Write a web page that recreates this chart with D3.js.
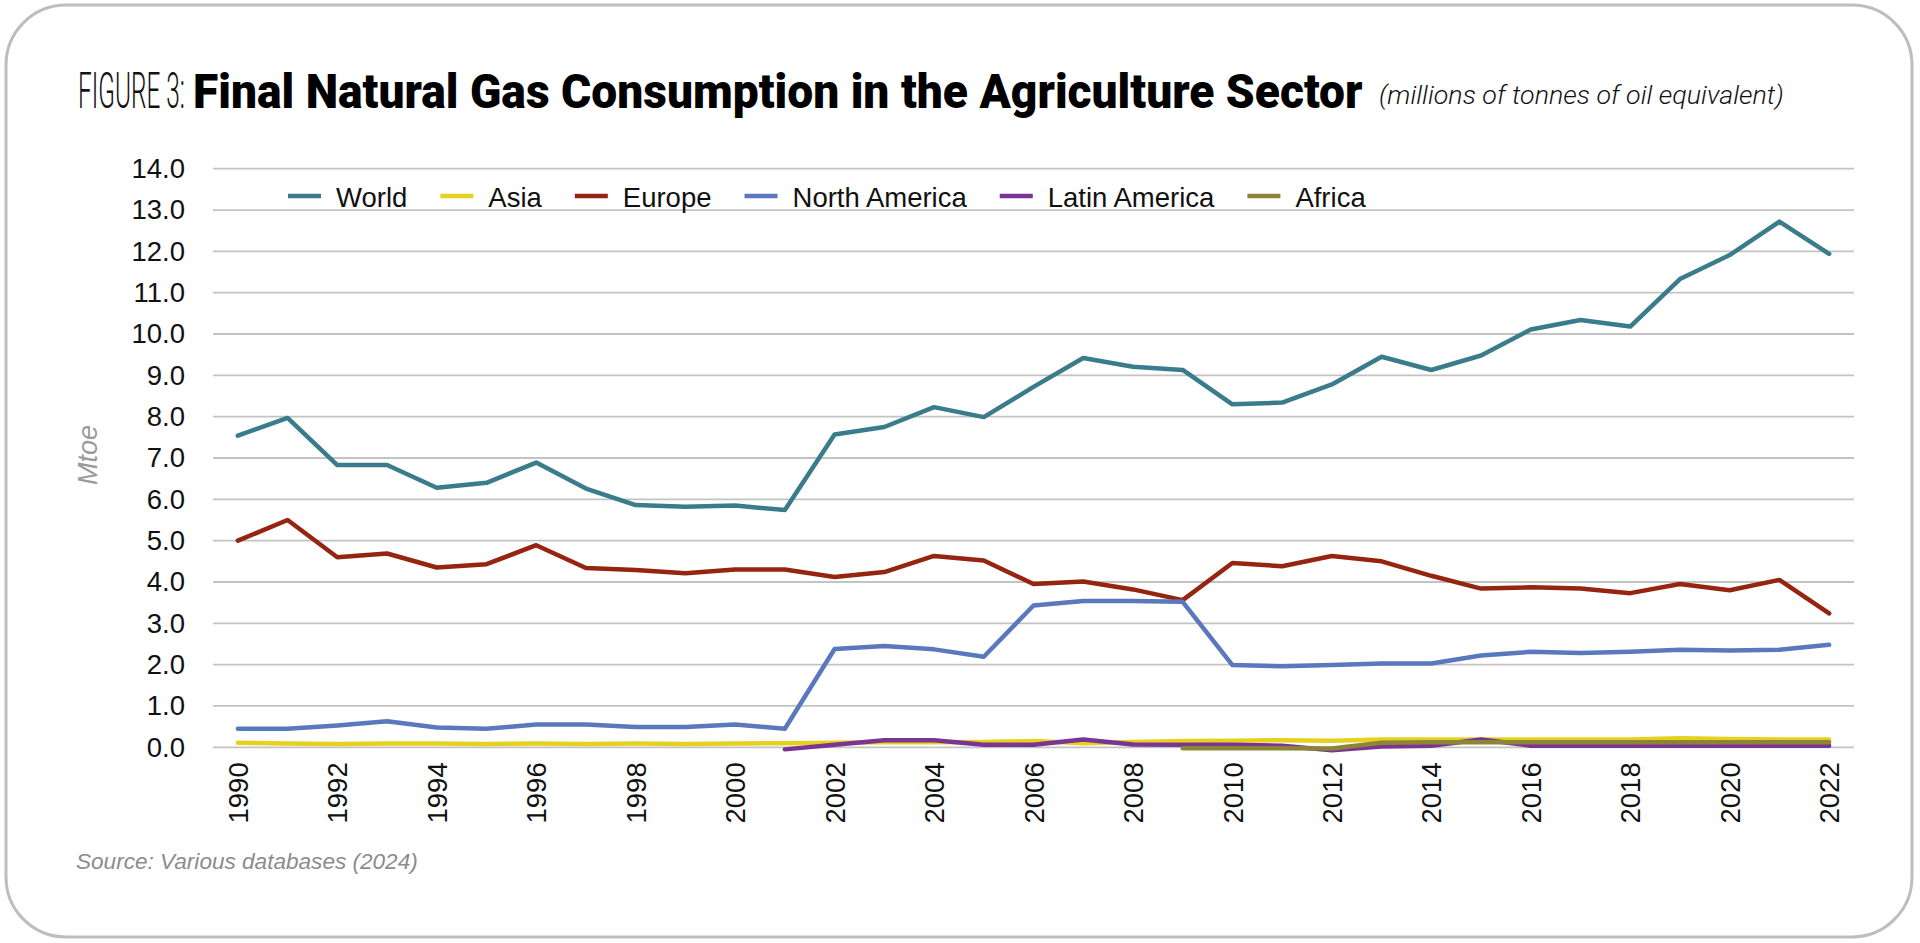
<!DOCTYPE html>
<html>
<head>
<meta charset="utf-8">
<script src="https://cdn.jsdelivr.net/npm/d3@7"></script>
<style>
  html, body { margin: 0; padding: 0; background: #ffffff; }
  svg { display: block; }
</style>
</head>
<body>
<svg id="chart" width="1920" height="943"></svg>
<script>
// ---------- DATA ----------
const years = d3.range(1990, 2023);
const yTicks = [0,1,2,3,4,5,6,7,8,9,10,11,12,13,14];
const xTickYears = d3.range(1990, 2023, 2);
const seriesNames = ["World", "Asia", "Europe", "North America", "Latin America", "Africa"];

const world = [7.54, 7.97, 6.83, 6.83, 6.28, 6.40, 6.89, 6.26, 5.86, 5.82,
               5.85, 5.74, 7.57, 7.75, 8.23, 7.99, 8.72, 9.42, 9.21, 9.13,
               8.30, 8.34, 8.78, 9.45, 9.13, 9.48, 10.11, 10.34, 10.18, 11.33,
               11.91, 12.72, 11.94];
const asia = [0.11, 0.09, 0.08, 0.09, 0.09, 0.08, 0.09, 0.08, 0.09, 0.08,
              0.09, 0.10, 0.11, 0.12, 0.12, 0.13, 0.15, 0.10, 0.13, 0.15,
              0.16, 0.17, 0.16, 0.19, 0.19, 0.19, 0.19, 0.19, 0.19, 0.22,
              0.20, 0.19, 0.19];
const europe = [5.00, 5.50, 4.60, 4.69, 4.35, 4.43, 4.89, 4.34, 4.29, 4.21,
                4.30, 4.30, 4.12, 4.24, 4.63, 4.52, 3.95, 4.01, 3.82, 3.56,
                4.46, 4.38, 4.63, 4.50, 4.15, 3.84, 3.87, 3.84, 3.73, 3.95,
                3.80, 4.05, 3.24];
const northAmerica = [0.45, 0.45, 0.53, 0.63, 0.48, 0.45, 0.55, 0.55, 0.49, 0.49,
                      0.55, 0.45, 2.38, 2.45, 2.37, 2.19, 3.43, 3.54, 3.54, 3.52,
                      1.99, 1.96, 1.99, 2.03, 2.03, 2.22, 2.31, 2.28, 2.31, 2.36,
                      2.34, 2.36, 2.48];
const latinAmerica = [null, null, null, null, null, null, null, null, null, null,
                      null, -0.05, 0.06, 0.17, 0.17, 0.06, 0.06, 0.19, 0.07, 0.06,
                      0.06, 0.04, -0.07, 0.02, 0.04, 0.19, 0.04, 0.04, 0.04, 0.04,
                      0.04, 0.04, 0.04];
const africa = [null, null, null, null, null, null, null, null, null, null,
                null, null, null, null, null, null, null, null, null, -0.02,
                -0.02, -0.02, -0.03, 0.11, 0.12, 0.12, 0.12, 0.12, 0.12, 0.12,
                0.12, 0.12, 0.12];

const seriesValues = [world, asia, europe, northAmerica, latinAmerica, africa];
const seriesColors = ["#3a7c8c", "#e6d21e", "#952510", "#5a78be", "#7a3494", "#8c8537"];

// ---------- LAYOUT ----------
const svg = d3.select("#chart");
const plot = { left: 213, right: 1854, top: 168.7, bottom: 747.3 };

// Border
svg.append("rect")
  .attr("x", 6).attr("y", 5).attr("width", 1906).attr("height", 932)
  .attr("rx", 60).attr("ry", 60)
  .attr("fill", "#ffffff").attr("stroke", "#bdbdbd").attr("stroke-width", 3);

// helper: scale text horizontally to target width
function fitText(sel, x, y, targetW) {
  const len = sel.node().getComputedTextLength();
  const s = targetW / len;
  sel.attr("transform", `translate(${x},${y}) scale(${s},1)`);
}

// Title
const t1 = svg.append("text").attr("x", 0).attr("y", 0)
  .style("font-family", "Roboto, 'Liberation Sans', sans-serif")
  .style("font-weight", 300).style("font-size", "50px").attr("fill", "#111")
  .text("FIGURE 3:");
fitText(t1, 78, 108, 107);
const t2 = svg.append("text").attr("x", 0).attr("y", 0)
  .style("font-family", "Roboto, 'Liberation Sans', sans-serif")
  .style("font-weight", 900).style("font-size", "49px").attr("fill", "#000")
  .text("Final Natural Gas Consumption in the Agriculture Sector");
fitText(t2, 193, 108, 1170);
const t3 = svg.append("text").attr("x", 0).attr("y", 0)
  .style("font-family", "Roboto, 'Liberation Sans', sans-serif")
  .style("font-style", "italic").style("font-weight", 300).style("font-size", "26px").attr("fill", "#111")
  .text("(millions of tonnes of oil equivalent)");
fitText(t3, 1379, 104, 405);

// Scales
const x = d3.scalePoint().domain(years).range([plot.left, plot.right]).padding(0.5);
const y = d3.scaleLinear().domain([0, 14]).range([plot.bottom, plot.top]);

// Gridlines
svg.append("g").selectAll("line").data(yTicks).join("line")
  .attr("x1", plot.left).attr("x2", plot.right)
  .attr("y1", d => y(d)).attr("y2", d => y(d))
  .attr("stroke", "#c3c3c3").attr("stroke-width", 1.8);

// Y axis via d3.axisLeft
const yAxis = svg.append("g")
  .attr("transform", `translate(${plot.left},0)`)
  .call(d3.axisLeft(y).tickValues(yTicks).tickFormat(d3.format(".1f")).tickSize(0).tickPadding(28));
yAxis.select(".domain").remove();
yAxis.selectAll("text")
  .style("font-family", "'Liberation Sans', Arial, sans-serif")
  .style("font-size", "27.5px").attr("fill", "#111");

// X axis via d3.axisBottom
const xAxis = svg.append("g")
  .attr("transform", `translate(0,${plot.bottom})`)
  .call(d3.axisBottom(x).tickValues(xTickYears).tickSize(0).tickPadding(0));
xAxis.select(".domain").remove();
xAxis.selectAll("text")
  .style("font-family", "'Liberation Sans', Arial, sans-serif")
  .style("font-size", "27.5px").attr("fill", "#111")
  .attr("text-anchor", "end")
  .attr("transform", "translate(0,15) rotate(-90)")
  .attr("x", 0).attr("y", 0).attr("dy", "0.35em");

// Y axis title
svg.append("text")
  .attr("transform", "translate(88,455) rotate(-90)")
  .attr("text-anchor", "middle").attr("dy", "0.35em")
  .style("font-family", "'Liberation Sans', Arial, sans-serif")
  .style("font-style", "italic").style("font-size", "27px").attr("fill", "#9a9a9a")
  .text("Mtoe");

// Lines
const line = d3.line()
  .defined(d => d.v !== null)
  .x(d => x(d.year)).y(d => y(d.v));
const seriesData = seriesNames.map((name, i) => ({
  name, color: seriesColors[i],
  values: years.map((yr, j) => ({ year: yr, v: seriesValues[i][j] }))
}));
svg.append("g").selectAll("path").data(seriesData).join("path")
  .attr("d", d => line(d.values))
  .attr("fill", "none").attr("stroke", d => d.color)
  .attr("stroke-width", 4.5).attr("stroke-linejoin", "round").attr("stroke-linecap", "round");

// Legend
const legend = svg.append("g").attr("transform", "translate(288,196)");
let lx = 0;
seriesData.forEach(d => {
  const g = legend.append("g").attr("transform", `translate(${lx},0)`);
  g.append("line").attr("x1", 0).attr("x2", 33).attr("y1", 0).attr("y2", 0)
    .attr("stroke", d.color).attr("stroke-width", 4.5);
  const tx = g.append("text").attr("x", 48).attr("y", 11)
    .style("font-family", "'Liberation Sans', Arial, sans-serif")
    .style("font-size", "27.5px").attr("fill", "#111").text(d.name);
  lx += 48 + tx.node().getComputedTextLength() + 33;
});

// Source
const src = svg.append("text").attr("x", 0).attr("y", 0)
  .style("font-family", "'Liberation Sans', Arial, sans-serif")
  .style("font-style", "italic").style("font-size", "22px").attr("fill", "#8c8c8c")
  .text("Source: Various databases (2024)");
fitText(src, 76, 869, 342);
</script>
</body>
</html>
